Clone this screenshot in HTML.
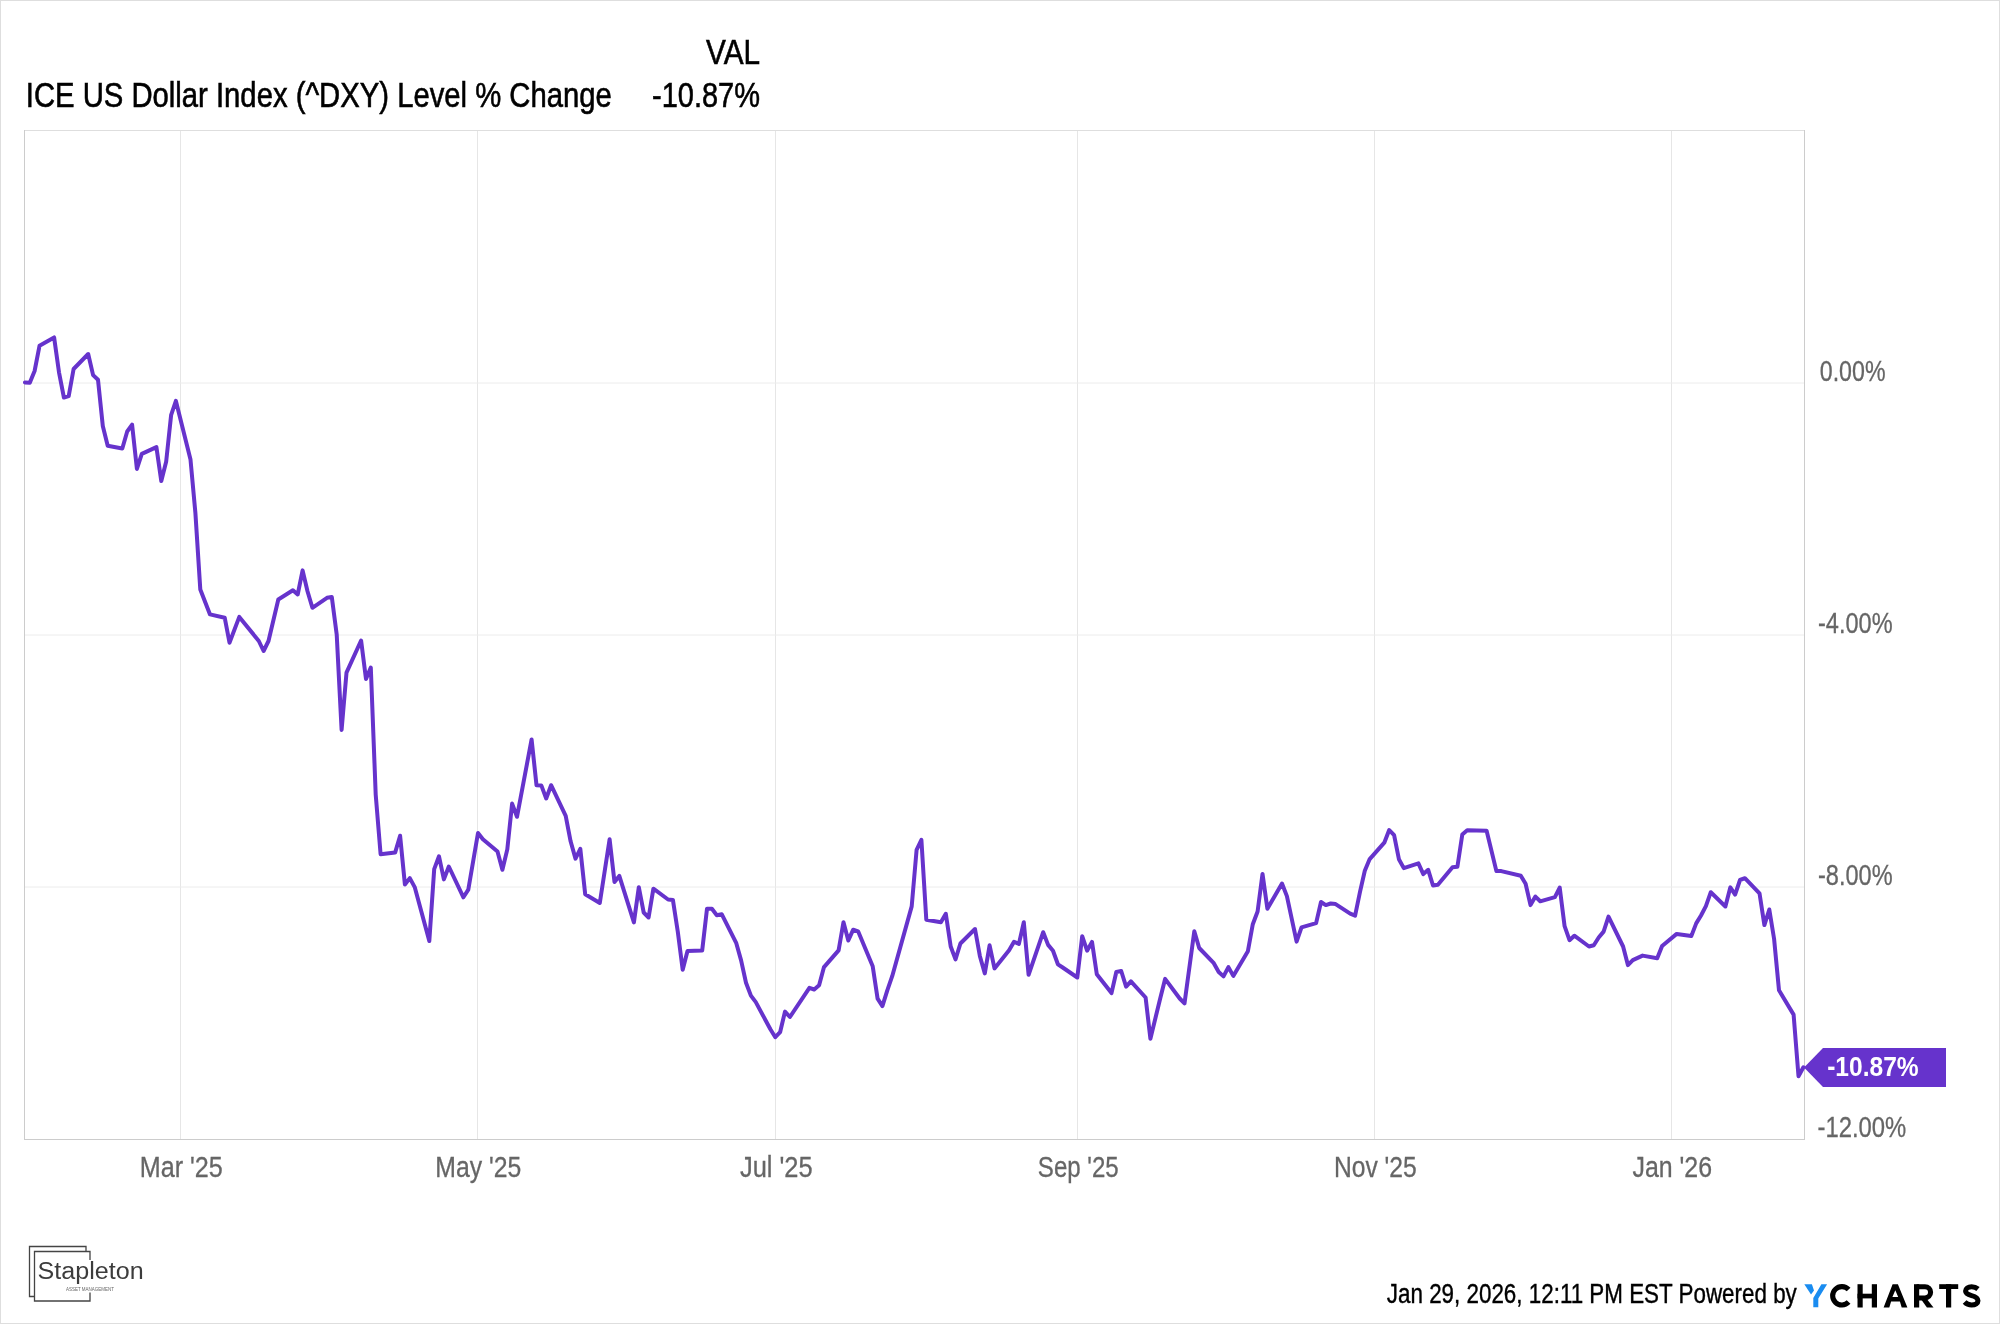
<!DOCTYPE html>
<html><head><meta charset="utf-8"><title>ICE US Dollar Index</title>
<style>
html,body{margin:0;padding:0;background:#fff;}
body{width:2000px;height:1324px;overflow:hidden;}
svg{display:block;will-change:transform;}
text{font-family:"Liberation Sans", sans-serif;}
</style></head><body>
<svg width="2000" height="1324" viewBox="0 0 2000 1324"><rect x="0.5" y="0.5" width="1999" height="1323" fill="#fff" stroke="#dedede"/>
<text x="25.8" y="107" font-size="35" fill="#000" text-anchor="start" font-weight="normal" textLength="586" lengthAdjust="spacingAndGlyphs" stroke="#000" stroke-width="0.6">ICE US Dollar Index (^DXY) Level % Change</text>
<text x="760" y="64" font-size="35" fill="#000" text-anchor="end" font-weight="normal" textLength="54" lengthAdjust="spacingAndGlyphs" stroke="#000" stroke-width="0.6">VAL</text>
<text x="760" y="107" font-size="35" fill="#000" text-anchor="end" font-weight="normal" textLength="108" lengthAdjust="spacingAndGlyphs" stroke="#000" stroke-width="0.6">-10.87%</text>
<line x1="180.5" y1="130" x2="180.5" y2="1139" stroke="#e6e6e6" stroke-width="1"/>
<line x1="477.5" y1="130" x2="477.5" y2="1139" stroke="#e6e6e6" stroke-width="1"/>
<line x1="775.5" y1="130" x2="775.5" y2="1139" stroke="#e6e6e6" stroke-width="1"/>
<line x1="1077.5" y1="130" x2="1077.5" y2="1139" stroke="#e6e6e6" stroke-width="1"/>
<line x1="1374.5" y1="130" x2="1374.5" y2="1139" stroke="#e6e6e6" stroke-width="1"/>
<line x1="1671.5" y1="130" x2="1671.5" y2="1139" stroke="#e6e6e6" stroke-width="1"/>
<line x1="24" y1="383" x2="1804" y2="383" stroke="#ececec" stroke-width="1"/>
<line x1="24" y1="635" x2="1804" y2="635" stroke="#ececec" stroke-width="1"/>
<line x1="24" y1="887" x2="1804" y2="887" stroke="#ececec" stroke-width="1"/>
<line x1="24" y1="130.5" x2="1805" y2="130.5" stroke="#dedede"/>
<line x1="24.5" y1="130" x2="24.5" y2="1140" stroke="#cccccc"/>
<line x1="1804.5" y1="130" x2="1804.5" y2="1140" stroke="#cccccc"/>
<line x1="24" y1="1139.5" x2="1805" y2="1139.5" stroke="#cccccc"/>
<path d="M24.9 382.5 L29.8 382.8 L34.6 371.0 L39.5 345.8 L54.1 337.4 L59.0 372.3 L63.9 397.5 L68.7 396.1 L73.6 369.0 L88.2 354.0 L93.1 375.1 L98.0 379.8 L102.8 426.0 L107.7 445.8 L122.3 448.5 L127.2 431.5 L132.1 424.7 L136.9 468.9 L141.8 453.9 L156.4 447.1 L161.3 481.1 L166.2 461.4 L171.1 415.2 L175.9 400.9 L190.5 459.6 L195.4 513.0 L200.3 589.5 L210.0 614.4 L224.7 617.7 L229.5 642.7 L239.3 616.9 L258.8 641.0 L263.6 651.0 L268.5 641.0 L278.3 599.5 L292.9 590.3 L297.7 594.5 L302.6 570.4 L307.5 591.2 L312.4 607.8 L327.0 597.8 L331.8 597.0 L336.7 634.4 L341.6 729.9 L346.5 672.6 L361.1 640.5 L366.0 679.1 L370.8 667.5 L375.7 794.6 L380.6 854.2 L395.2 852.4 L400.1 835.7 L404.9 884.5 L409.8 878.1 L414.7 887.1 L429.3 941.0 L434.2 869.1 L439.0 856.3 L443.9 879.4 L448.8 866.5 L463.4 897.3 L468.3 889.6 L478.0 833.0 L482.9 839.2 L497.5 851.5 L502.4 869.8 L507.3 849.4 L512.1 803.6 L517.0 816.8 L531.6 739.4 L536.5 785.2 L541.4 785.6 L546.2 798.5 L551.1 785.2 L565.7 815.8 L570.6 841.3 L575.5 858.6 L580.3 848.8 L585.2 894.3 L599.8 903.0 L609.6 839.2 L614.5 882.0 L619.3 875.9 L633.9 922.4 L638.8 887.2 L643.7 912.5 L648.6 917.5 L653.4 888.7 L668.1 899.5 L672.9 899.9 L677.8 931.7 L682.7 969.8 L687.5 951.1 L702.2 950.4 L707.0 908.8 L711.9 908.8 L716.8 915.2 L721.7 914.2 L736.3 943.2 L741.1 960.4 L746.0 982.7 L750.9 995.6 L755.8 1002.1 L770.4 1029.3 L775.3 1037.2 L780.1 1032.2 L785.0 1011.6 L789.9 1017.0 L809.4 987.8 L814.2 989.5 L819.1 985.3 L824.0 967.1 L838.6 950.4 L843.5 922.2 L848.3 940.5 L853.2 929.7 L858.1 931.3 L872.7 966.2 L877.6 998.6 L882.4 1006.1 L887.3 990.3 L892.2 976.2 L911.7 906.4 L916.6 849.9 L921.4 839.9 L926.3 919.7 L940.9 922.2 L945.8 913.8 L950.7 946.5 L955.5 959.4 L960.4 943.5 L975.0 929.0 L979.9 956.2 L984.8 973.4 L989.6 945.3 L994.5 968.4 L1009.1 950.3 L1014.0 941.7 L1018.9 943.9 L1023.8 922.2 L1028.6 974.8 L1043.2 932.2 L1048.1 944.9 L1053.0 950.7 L1057.9 964.3 L1062.7 967.5 L1077.3 977.5 L1082.2 936.2 L1087.1 950.7 L1092.0 941.9 L1096.8 974.2 L1111.5 993.1 L1116.3 972.0 L1121.2 971.0 L1126.1 986.7 L1130.9 981.3 L1145.6 997.5 L1150.4 1038.7 L1160.2 998.5 L1165.1 978.9 L1179.7 998.5 L1184.5 1003.4 L1194.3 931.3 L1199.2 948.0 L1213.8 963.2 L1218.7 972.0 L1223.5 976.4 L1228.4 967.1 L1233.3 975.9 L1247.9 951.2 L1252.8 924.2 L1257.6 911.5 L1262.5 873.9 L1267.4 908.8 L1282.0 883.5 L1286.9 896.1 L1296.6 941.6 L1301.5 927.3 L1316.1 923.1 L1321.0 902.0 L1325.8 905.1 L1330.7 903.5 L1335.6 904.1 L1350.2 913.6 L1355.1 915.7 L1360.0 891.9 L1364.8 870.8 L1369.7 859.1 L1384.3 842.7 L1389.2 830.0 L1394.1 835.2 L1398.9 859.2 L1403.8 868.1 L1418.4 863.4 L1423.3 874.1 L1428.2 869.8 L1433.0 885.5 L1437.9 884.7 L1452.5 867.3 L1457.4 866.8 L1462.3 834.5 L1467.2 830.3 L1486.6 830.7 L1496.4 871.1 L1501.3 871.1 L1520.8 875.8 L1525.6 883.8 L1530.5 905.1 L1535.4 896.6 L1540.2 901.3 L1554.9 897.1 L1559.7 887.6 L1564.6 926.2 L1569.5 940.2 L1574.3 935.7 L1589.0 946.5 L1593.8 945.2 L1598.7 937.5 L1603.6 931.6 L1608.5 916.6 L1623.1 946.5 L1627.9 965.1 L1632.8 960.1 L1642.6 955.6 L1657.2 958.3 L1662.1 946.1 L1666.9 942.0 L1676.7 933.9 L1691.3 936.1 L1696.2 923.4 L1701.0 915.5 L1705.9 906.1 L1710.8 892.2 L1725.4 906.5 L1730.3 887.4 L1735.1 894.7 L1740.0 880.0 L1744.9 878.2 L1759.5 893.3 L1764.4 925.1 L1769.3 909.5 L1774.1 939.0 L1779.0 990.3 L1793.6 1014.6 L1798.5 1076.2 L1803.4 1067.3" fill="none" stroke="#6633cc" stroke-width="4" stroke-linejoin="round" stroke-linecap="round"/>
<path d="M1804 1067.5 L1823 1048 L1946 1048 L1946 1087 L1823 1087 Z" fill="#6633cc"/>
<text x="1827.2" y="1076.3" font-size="28" fill="#fff" text-anchor="start" font-weight="bold" textLength="91.5" lengthAdjust="spacingAndGlyphs">-10.87%</text>
<text x="1819.8" y="381" font-size="29" fill="#666666" text-anchor="start" font-weight="normal" textLength="65.7" lengthAdjust="spacingAndGlyphs" stroke="#666666" stroke-width="0.3">0.00%</text>
<text x="1818" y="633" font-size="29" fill="#666666" text-anchor="start" font-weight="normal" textLength="74.6" lengthAdjust="spacingAndGlyphs" stroke="#666666" stroke-width="0.3">-4.00%</text>
<text x="1818" y="885" font-size="29" fill="#666666" text-anchor="start" font-weight="normal" textLength="74.6" lengthAdjust="spacingAndGlyphs" stroke="#666666" stroke-width="0.3">-8.00%</text>
<text x="1817.5" y="1137" font-size="29" fill="#666666" text-anchor="start" font-weight="normal" textLength="88.8" lengthAdjust="spacingAndGlyphs" stroke="#666666" stroke-width="0.3">-12.00%</text>
<text x="181.3" y="1177" font-size="29" fill="#666666" text-anchor="middle" font-weight="normal" textLength="83.1" lengthAdjust="spacingAndGlyphs" stroke="#666666" stroke-width="0.3">Mar '25</text>
<text x="478.3" y="1177" font-size="29" fill="#666666" text-anchor="middle" font-weight="normal" textLength="85.9" lengthAdjust="spacingAndGlyphs" stroke="#666666" stroke-width="0.3">May '25</text>
<text x="776.3" y="1177" font-size="29" fill="#666666" text-anchor="middle" font-weight="normal" textLength="72.7" lengthAdjust="spacingAndGlyphs" stroke="#666666" stroke-width="0.3">Jul '25</text>
<text x="1078.3" y="1177" font-size="29" fill="#666666" text-anchor="middle" font-weight="normal" textLength="80.9" lengthAdjust="spacingAndGlyphs" stroke="#666666" stroke-width="0.3">Sep '25</text>
<text x="1375.3" y="1177" font-size="29" fill="#666666" text-anchor="middle" font-weight="normal" textLength="82.8" lengthAdjust="spacingAndGlyphs" stroke="#666666" stroke-width="0.3">Nov '25</text>
<text x="1672.3" y="1177" font-size="29" fill="#666666" text-anchor="middle" font-weight="normal" textLength="79.6" lengthAdjust="spacingAndGlyphs" stroke="#666666" stroke-width="0.3">Jan '26</text>
<text x="1386.8" y="1303" font-size="27" fill="#000" text-anchor="start" font-weight="normal" textLength="410" lengthAdjust="spacingAndGlyphs" stroke="#000" stroke-width="0.4">Jan 29, 2026, 12:11 PM EST Powered by</text>
<g fill="#1a8cf0"><path d="M1804.3 1284.2 L1811.9 1284.2 L1814 1290.4 L1811 1294.6 Z"/><path d="M1821.4 1284.2 L1827.1 1284.2 L1818.3 1298.4 L1818.3 1307.3 L1813.3 1307.3 L1813.3 1297.9 Z"/></g>
<g fill="#000"><rect x="1857.5" y="1284.2" width="5.2" height="23.3"/><rect x="1871.8" y="1284.2" width="5.2" height="23.3"/><rect x="1857.5" y="1293.7" width="19.5" height="4.7"/><path fill-rule="evenodd" d="M1883.6 1307.5 L1889.3 1307.5 L1891.1 1301.4 L1899.9 1301.4 L1901.7 1307.5 L1907.4 1307.5 L1897.9 1284.2 L1892.6 1284.2 Z M1895.3 1290.2 L1898.2 1297 L1892.4 1297 Z"/><rect x="1914" y="1284.2" width="5.2" height="23.3"/><path d="M1921.6 1300 L1927.6 1300 L1933.5 1307.5 L1926.9 1307.5 Z"/><rect x="1939.2" y="1284.2" width="19" height="4.8"/><rect x="1946" y="1284.2" width="5.2" height="23.3"/></g>
<g fill="none" stroke="#000" stroke-width="5.1"><path d="M1848.6 1289.6 A 9.2 9.2 0 1 0 1848.6 1302.1"/><path d="M1916.6 1286.75 L1925 1286.75 A 5.6 5.6 0 0 1 1925 1297.95 L1916.6 1297.95"/><path d="M1978 1289 C1976 1287.3 1974 1286.75 1971.6 1286.75 C1968 1286.75 1965.6 1288.6 1965.6 1291 C1965.6 1294 1968.5 1294.8 1971.6 1295.6 C1975 1296.5 1977.95 1297.6 1977.95 1300.7 C1977.95 1303.3 1975.3 1304.95 1971.6 1304.95 C1968.6 1304.95 1966.3 1303.8 1964.6 1302"/></g>
<g fill="none" stroke="#444" stroke-width="1.3"><path d="M86 1251 L86 1246.5 L29.5 1246.5 L29.5 1296.5 L34 1296.5"/><path d="M90 1260 L90 1251.5 L34.5 1251.5 L34.5 1301 L90 1301 L90 1292.5"/></g>
<text x="37.6" y="1279" font-size="23" fill="#3c3c3c" text-anchor="start" font-weight="normal" textLength="106" lengthAdjust="spacingAndGlyphs">Stapleton</text>
<text x="66" y="1291" font-size="5" fill="#666" text-anchor="start" font-weight="normal" textLength="48" lengthAdjust="spacingAndGlyphs">ASSET MANAGEMENT</text></svg>
</body></html>
